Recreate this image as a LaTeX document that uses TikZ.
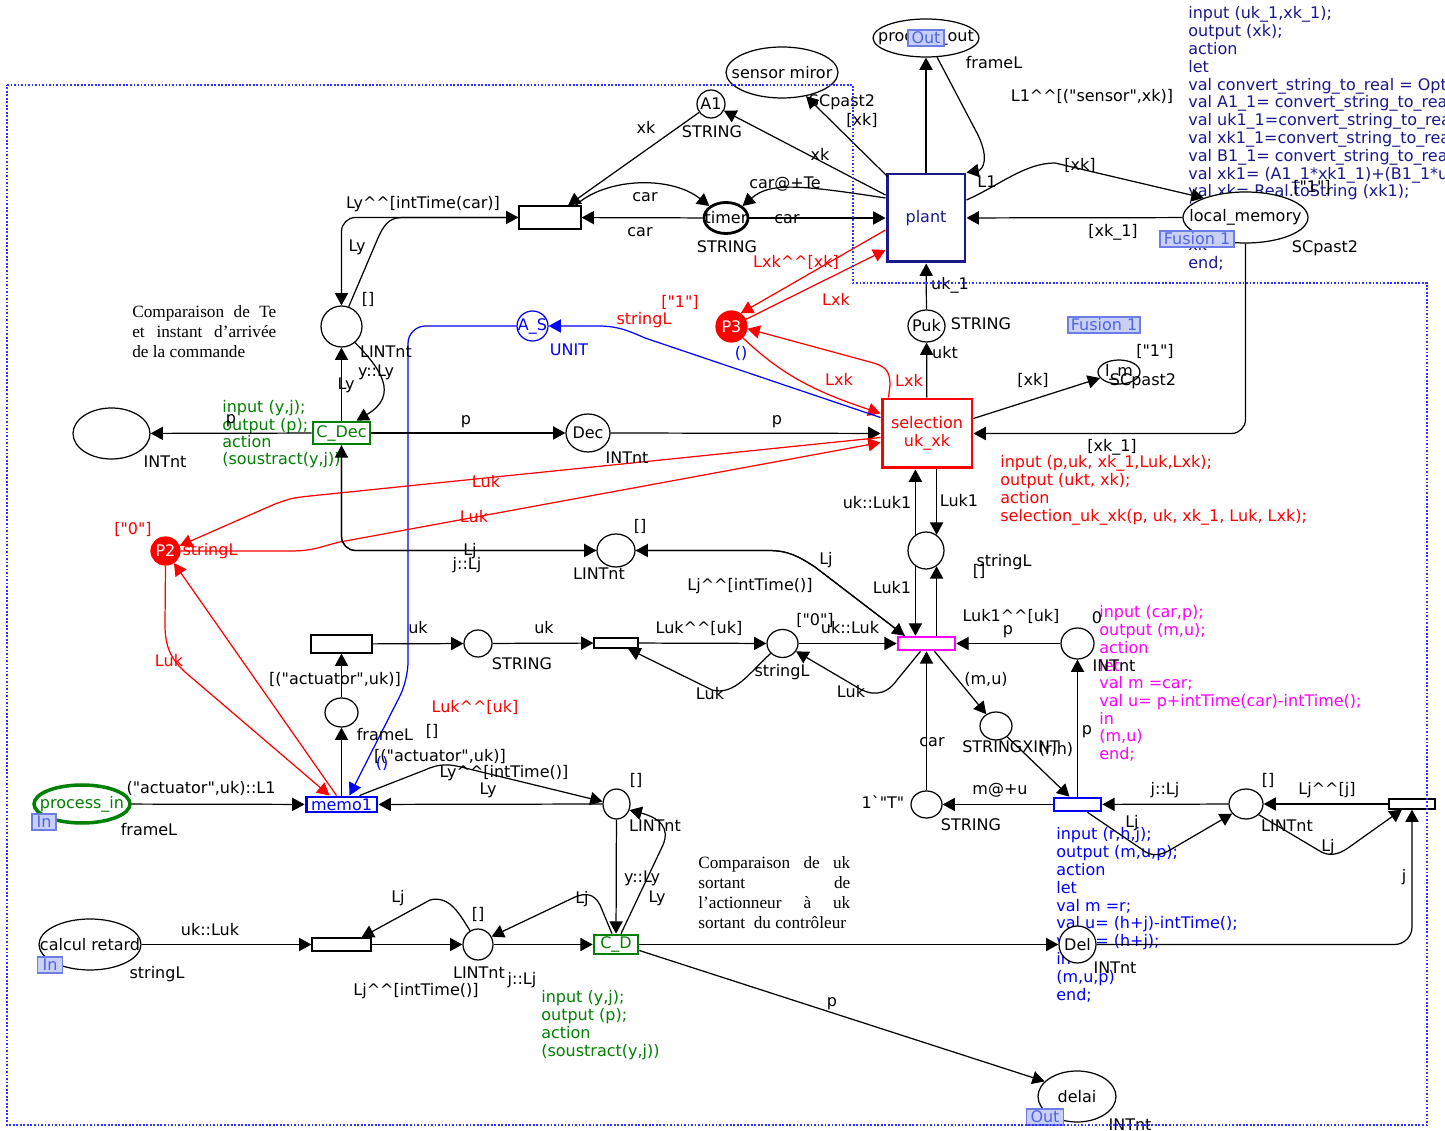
\documentclass[tikz,border=0pt]{standalone}
\usepackage{fontspec}
\setmainfont{Liberation Serif}
\newfontfamily\cpnfont{DejaVu Sans}
\usetikzlibrary{arrows.meta,shapes.geometric,calc}

\definecolor{cpnnavy}{RGB}{25,25,140}
\definecolor{cpnblue}{RGB}{0,0,255}
\definecolor{cpngreen}{RGB}{0,128,0}
\definecolor{cpnmag}{RGB}{255,0,255}
\definecolor{cpnred}{RGB}{255,0,0}
\definecolor{tagfill}{RGB}{200,208,245}
\definecolor{tagline}{RGB}{110,125,230}
\definecolor{tagtext}{RGB}{80,100,230}
\definecolor{fence}{RGB}{50,50,255}

\newcommand{\dcirc}{\textasciicircum\textasciicircum}

\begin{document}
\begin{tikzpicture}[x=0.02cm,y=-0.02cm,>={Triangle[length=7pt,width=7.5pt]},
    every node/.style={font=\cpnfont\fontsize{9.1}{10.1}\selectfont},
    place/.style={draw,ellipse,fill=white,inner sep=0pt,line width=0.7pt},
    trans/.style={draw,rectangle,fill=white,inner sep=0pt,line width=0.7pt},
    arc/.style={->,line width=0.7pt},
    lbl/.style={inner sep=0pt,anchor=base,yshift=-2.8pt},
    codeline/.style={inner sep=0pt,anchor=base west,yshift=-2.8pt},
    tag/.style={draw=tagline,fill=tagfill,text=tagtext,inner sep=0pt,
      line width=0.6pt,minimum height=0.32cm},
    note/.style={font=\rmfamily\fontsize{9.8}{11.4}\selectfont,inner sep=0pt,
      anchor=base west,yshift=-3pt}]
\useasboundingbox (0,0) rectangle (1445,1131);

% code of the transitions
\foreach \i/\t in {0/{input (uk\_1,xk\_1);},1/{output (xk);},2/action,3/let,
    4/{val convert\_string\_to\_real = Option.valOf o Real.fromString;},
    5/{val A1\_1= convert\_string\_to\_real A1;},
    6/{val uk1\_1=convert\_string\_to\_real uk\_1;},
    7/{val xk1\_1=convert\_string\_to\_real xk\_1;},
    8/{val B1\_1= convert\_string\_to\_real B1;},
    9/{val xk1= (A1\_1*xk1\_1)+(B1\_1*uk1\_1);},
    10/{val xk= Real.toString (xk1);},11/in,13/xk,14/end;}
  \node[codeline,text=cpnnavy] (plcode\i) at (1188,14+17.8*\i) {\t};
\foreach \i/\t in {0/{input (p,uk, xk\_1,Luk,Lxk);},1/{output (ukt, xk);},2/action,
    3/{selection\_uk\_xk(p, uk, xk\_1, Luk, Lxk);}}
  \node[codeline,text=cpnred] (selcode\i) at (1000,463+17.8*\i) {\t};
\foreach \i/\t in {0/{input (car,p);},1/{output (m,u);},2/action,3/let,4/{val m =car;},
    5/{val u= p+intTime(car)-intTime();},6/in,7/{(m,u)},8/end;}
  \node[codeline,text=cpnmag] (magcode\i) at (1099,613+17.7*\i) {\t};
\foreach \i/\t in {0/{input (r,h,j);},1/{output (m,u,p);},2/action,3/let,4/{val m =r;},
    5/{val u= (h+j)-intTime();},6/{val p= (h+j);},7/in,8/{(m,u,p)},9/end;}
  \node[codeline,text=cpnblue] (btcode\i) at (1056,835+17.8*\i) {\t};
\foreach \i/\t in {0/{input (y,j);},1/{output (p);},2/action,3/{(soustract(y,j))}}
  \node[codeline,text=cpngreen] (cdeccode\i) at (222,408+17.2*\i) {\t};
\foreach \i/\t in {0/{input (y,j);},1/{output (p);},2/action,3/{(soustract(y,j))}}
  \node[codeline,text=cpngreen] (cdcode\i) at (541,998+17.8*\i) {\t};

% comments
\node[note] (notete) at (132,312) {\parbox[t]{2.88cm}{\tolerance=10000\hyphenpenalty=10000
  Comparaison de Te et instant d’arrivée de la commande}};
\node[note] (noteuk) at (698,863) {\parbox[t]{3.04cm}{\tolerance=10000\hyphenpenalty=10000
  Comparaison de uk sortant de\linebreak l’actionneur à uk sortant~~du contrôleur}};

% places
\node[place,minimum width=2.24cm,minimum height=1.02cm,label=center:sensor miror] (sensor) at (782,72.5) {};
\node[place,minimum width=2.12cm,minimum height=0.76cm,label=center:process\_out] (pout) at (926,38) {};
\node[place,minimum size=0.56cm,label=center:A1] (aone) at (711,104) {};
\node[place,line width=1.6pt,minimum width=0.88cm,minimum height=0.62cm,label=center:timer] (timer) at (726,218) {};
\node[place,minimum width=2.5cm,minimum height=1.02cm,label=center:local\_memory] (lmem) at (1245.5,217.5) {};
\node[place,minimum width=0.74cm,minimum height=0.64cm,label=center:Puk] (puk) at (926.5,326) {};
\node[place,draw=cpnred,fill=cpnred,minimum size=0.62cm,label={[text=white]center:P3}] (pthree) at (731.5,326.5) {};
\node[place,draw=cpnblue,minimum width=0.62cm,minimum height=0.6cm,label={[text=cpnblue]center:A\_S}] (as) at (532.5,326) {};
\node[place,minimum size=0.82cm] (ly) at (341.5,326.5) {};
\node[place,minimum width=1.54cm,minimum height=1.02cm] (outp) at (111.5,433.5) {};
\node[place,minimum width=0.88cm,minimum height=0.76cm,label=center:Dec] (dec) at (588,433) {};
\node[place,minimum width=0.84cm,minimum height=0.48cm,label=center:l\_m] (lm) at (1119,372) {};
\node[place,draw=cpnred,fill=cpnred,minimum width=0.58cm,minimum height=0.56cm,label={[text=white]center:P2}] (ptwo) at (165.5,551) {};
\node[place,minimum width=0.76cm,minimum height=0.66cm] (ljtop) at (616,550.5) {};
\node[place,minimum width=0.72cm,minimum height=0.74cm] (lukone) at (926,550.5) {};
\node[place,minimum width=0.62cm,minimum height=0.56cm] (luk) at (782.5,643.5) {};
\node[place,minimum width=0.56cm,minimum height=0.54cm] (ukp) at (478,643.5) {};
\node[place,minimum width=0.66cm,minimum height=0.58cm] (frame) at (341.5,712.5) {};
\node[place,draw=cpngreen,line width=2pt,minimum width=1.92cm,minimum height=0.76cm,label={[text=cpngreen]center:process\_in}] (pin) at (82,804) {};
\node[place,minimum width=0.54cm,minimum height=0.6cm] (lyb) at (616.5,804) {};
\node[place,minimum width=0.6cm,minimum height=0.62cm] (ljb) at (478,944.5) {};
\node[place,minimum width=2.04cm,minimum height=1.02cm,label=center:calcul retard] (retard) at (90,944.5) {};
\node[place,minimum width=1.56cm,minimum height=1.02cm,label=center:delai] (delai) at (1077,1096.5) {};
\node[place,minimum size=0.74cm,label=center:Del] (del) at (1077.5,944.5) {};
\node[place,minimum width=0.68cm,minimum height=0.6cm] (ljr) at (1246,804) {};
\node[place,minimum width=0.62cm,minimum height=0.54cm] (tp) at (926.5,804.5) {};
\node[place,minimum width=0.64cm,minimum height=0.56cm] (mu) at (996,726) {};
\node[place,minimum width=0.66cm,minimum height=0.62cm] (zero) at (1077.5,643.5) {};

% transitions
\node[trans,minimum width=1.24cm,minimum height=0.46cm] (rtop) at (550,217.5) {};
\node[trans,draw=cpnnavy,text=cpnnavy,line width=1.7pt,minimum width=1.56cm,minimum height=1.76cm] (plant) at (926,218) {plant};
\node[trans,draw=cpnred,text=cpnred,line width=1.7pt,align=center,minimum width=1.8cm,minimum height=1.38cm] (sel) at (927,433.5) {selection\\uk\_xk};
\node[trans,draw=cpngreen,text=cpngreen,line width=1.5pt,minimum width=1.14cm,minimum height=0.44cm] (cdec) at (341.5,433) {C\_Dec};
\node[trans,draw=cpnmag,line width=1.5pt,minimum width=1.14cm,minimum height=0.26cm] (mag) at (926.5,643.5) {};
\node[trans,minimum width=0.88cm,minimum height=0.2cm] (srect) at (616,643) {};
\node[trans,minimum width=1.22cm,minimum height=0.36cm] (act) at (341.5,644) {};
\node[trans,draw=cpnblue,text=cpnblue,line width=1.7pt,minimum width=1.42cm,minimum height=0.3cm] (memo) at (341.5,804.5) {memo1};
\node[trans,minimum width=1.18cm,minimum height=0.26cm] (btr) at (341.5,944.5) {};
\node[trans,draw=cpngreen,text=cpngreen,line width=1.5pt,minimum width=0.88cm,minimum height=0.38cm] (cd) at (616,944.5) {C\_D};
\node[trans,draw=cpnblue,line width=1.5pt,minimum width=0.94cm,minimum height=0.26cm] (bt) at (1077.5,804.5) {};
\node[trans,minimum width=0.92cm,minimum height=0.2cm] (rtr) at (1412,804) {};

% arcs around plant
\draw[arc] (aone) -- ($(rtop.north)+(18,0)$);
\draw[arc] ($(plant.west)+(0,-23)$) -- (aone);
\draw[arc] ($(plant.north west)+(2,4)$) -- (sensor);
\draw[arc] ($(rtop.north east)+(-6,0)$) .. controls (605,178) and (670,175) .. (timer.north west);
\draw[arc] (timer) -- (rtop);
\draw[arc] (timer) -- (plant);
\draw[arc] ($(plant.west)+(0,-20)$) .. controls (800,185) and (770,182) .. (timer.north east);
\draw[arc] (plant) -- (pout);
\draw[arc] (pout.300) -- (978,135) .. controls (990,160) and (982,170) .. (plant.north east);
\draw[arc] ($(plant.east)+(0,-18)$) .. controls (1000,185) and (1025,163) .. (1055,163) -- (lmem.155);
\draw[arc] (lmem) -- (plant);
\draw[arc,rounded corners=8pt] (lmem.south) |- (sel.east);
\draw[arc] ($(sel.east)+(0,-15)$) -- (lm);
\draw[arc] (puk) -- (plant);
\draw[arc] (sel) -- (puk);
\draw[arc,cpnred] ($(plant.west)+(0,12)$) -- (pthree.55);
\draw[arc,cpnred] (pthree) -- ($(plant.west)+(0,32)$);
\draw[arc,cpnred] (pthree.-45) .. controls (785,378) and (820,393) .. ($(sel.west)+(0,-20)$);
\draw[arc,cpnred] ($(sel.north west)+(8,0)$) -- (890,385) .. controls (890,370) and (885,366) .. (870,362) -- (pthree.-8);
\draw[arc,cpnblue] ($(sel.west)+(0,-16)$) -- (645,338) .. controls (625,329) and (615,326) .. (598,326) -- (as.east);
\draw[arc,cpnblue,rounded corners=10pt] (as.west) -| (408,680) -- ($(memo.north)+(8,0)$);

% arcs around C_Dec
\draw[arc] (cdec) -- (outp);
\draw[arc] (cdec) -- (ly);
\draw[arc] (ly.-50) .. controls (380,368) and (400,395) .. ($(cdec.north)+(15,0)$);
\draw[arc,rounded corners=8pt] (rtop.west) -| (ly.north);
\draw[arc] (ly.70) -- (378,238) .. controls (386,220) and (392,217.5) .. (405,217.5) -- (rtop.west);
\draw[arc] (cdec) -- (dec);
\draw[arc] (dec) -- (sel);
\draw[arc,cpnred] ($(sel.west)+(0,4)$) -- (310,496) .. controls (292,498) .. (275,504) -- (ptwo.20);
\draw[arc,cpnred] (ptwo.east) -- (290,551) .. controls (315,551) and (322,546) .. (340,542) -- ($(sel.west)+(0,9)$);
\draw[arc,cpnred] (ptwo.south) -- (165,625) .. controls (165,648) and (172,660) .. (185,672) -- ($(memo.north)+(-12,0)$);
\draw[arc,cpnred] ($(memo.north)+(-5,0)$) -- (ptwo);
\draw[arc,rounded corners=8pt] (ljtop.west) -| (cdec.south);
\draw[arc,rounded corners=8pt] (cdec.south) |- (ljtop.west);
\draw[arc] ($(mag.north west)+(8,0)$) -- (815,567) .. controls (798,556) and (788,550.5) .. (768,550.5) -- (ljtop.east);
\draw[arc] (ljtop.east) -- (768,550.5) .. controls (788,550.5) and (798,556) .. (815,567) -- ($(mag.north west)+(8,0)$);

% arcs around the magenta transition
\draw[arc] (lukone.56 |- sel.south) -- (lukone.56);
\draw[arc] (lukone.124) -- (lukone.124 |- sel.south);
\draw[arc] (lukone.236) -- (lukone.236 |- mag.north);
\draw[arc] (lukone.304 |- mag.north) -- (lukone.304);
\draw[arc] (luk) -- (mag);
\draw[arc] ($(mag.south)+(-6,0)$) -- (897,680) .. controls (885,697) and (870,696) .. (855,686) -- (luk.-30);
\draw[arc] (srect) -- (luk);
\draw[arc] (luk.-140) .. controls (750,672) and (735,696) .. (712,690) -- ($(srect.south)+(12,0)$);
\draw[arc] (ukp) -- (srect);
\draw[arc] (act) -- (ukp);
\draw[arc] (frame) -- (act);
\draw[arc] (memo) -- (frame);
\draw[arc] (pin) -- (memo);
\draw[arc] (lyb) -- (memo);
\draw[arc] ($(memo.north)+(18,0)$) -- (425,770) .. controls (440,763) and (450,764) .. (465,768) -- (lyb.170);
\draw[arc] (lyb) -- (cd);
\draw[arc] ($(cd.north)+(5,0)$) -- (663,845) .. controls (670,828) and (660,818) .. (lyb.-25);
\draw[arc] (ljb) -- (cd);
\draw[arc] ($(cd.north)+(-4,0)$) -- (600,905) .. controls (594,893) and (585,893) .. (575,897) -- (ljb.30);
\draw[arc] (btr) -- (ljb);
\draw[arc] (ljb.120) .. controls (460,915) and (450,895) .. (430,900) -- ($(btr.north)+(20,0)$);
\draw[arc] (retard) -- (btr);
\draw[arc] (cd) -- (del);
\draw[arc] ($(cd.east)+(0,6)$) -- (delai.155);
\draw[arc,rounded corners=10pt] (del.east) -| (rtr.south);
\draw[arc] (rtr) -- (ljr);
\draw[arc] (ljr.-40) -- (1318,850) .. controls (1328,857) and (1338,855) .. (1348,848) -- ($(rtr.south)+(-10,0)$);
\draw[arc] (ljr) -- (bt);
\draw[arc] ($(bt.south)+(10,0)$) -- (1140,848) .. controls (1150,857) and (1160,856) .. (1170,850) -- (ljr.-145);
\draw[arc] (bt) -- (tp);
\draw[arc] (tp) -- (mag);
\draw[arc] ($(mag.south)+(8,0)$) -- (mu);
\draw[arc] (mu) -- ($(bt.north)+(-8,0)$);
\draw[arc] (bt) -- (zero);
\draw[arc] (zero) -- (mag);

% inscriptions
\foreach \x/\y/\t [count=\n] in {423/204/Ly\dcirc[intTime(car)],357/247/Ly,368/300/[],
    386/353/LINTnt,376/372/y::Ly,346/385/Ly,231/419/p,165/463/INTnt,466/420/p,
    627/459/INTnt,777/420/p,646/129/xk,712/133/STRING,820/156/xk,842/102/SCpast2,
    862/121/[xk],645/197/car,640/232/car,727/248/STRING,785/184/car@+Te,787/219/car,
    994/64/frameL,1092/97/{L1\dcirc[("sensor",xk)]},987/183/L1,1080/166/[xk],
    1113/232/[xk\_1],1325/248/SCpast2,1312/188/["1"],950/285/uk\_1,981/325/STRING,
    945/354/ukt,1033/381/[xk],1155/352/["1"],1143/381/SCpast2,1112/447/[xk\_1],
    877/504/uk::Luk1,959/502/Luk1,640/527/[],599/575/LINTnt,826/560/Lj,
    750/586/Lj\dcirc[intTime()],892/589/Luk1,1004/562/stringL,979/572/[],
    470/551/Lj,467/565/j::Lj,418/629/uk,544/629/uk,522/665/STRING,699/629/Luk\dcirc[uk],
    815/621/["0"],850/629/uk::Luk,782/672/stringL,710/695/Luk,851/693/Luk,
    1011/617/Luk1\dcirc[uk],1008/630/p,1097/619/0,1114/667/INTnt,986/680/{(m,u)},
    932/742/car,1011/748/STRINGXINT,1056/750/{(r,h)},1087/730/p,1000/790/m@+u,
    883/804/1\textasciigrave"T",971/826/STRING,1165/790/j::Lj,1268/781/[],
    1327/790/Lj\dcirc[j],1287/827/LINTnt,1328/847/Lj,1132/823/Lj,1404/877/j,
    1115/969/INTnt,1130/1126/INTnt,832/1002/p,636/781/[],655/827/LINTnt,642/878/y::Ly,
    657/898/Ly,582/899/Lj,522/980/j::Lj,479/974/LINTnt,478/915/[],398/898/Lj,
    416/991/Lj\dcirc[intTime()],210/931/uk::Luk,157/974/stringL,
    201/789/{("actuator",uk)::L1},149/831/frameL,488/790/Ly,504/773/Ly\dcirc[intTime()],
    335/680/{[("actuator",uk)]},440/757/{[("actuator",uk)]},385/736/frameL,432/732/[]}
  \node[lbl] (lb\n) at (\x,\y) {\t};
\foreach \x/\y/\t [count=\n] in {796/263/Lxk\dcirc[xk],836/301/Lxk,680/303/["1"],
    644/320/stringL,839/381/Lxk,909/382/Lxk,486/483/Luk,474/518/Luk,133/530/["0"],
    210/551/stringL,169/662/Luk,475/708/Luk\dcirc[uk]}
  \node[lbl,text=cpnred] (lr\n) at (\x,\y) {\t};
\foreach \x/\y/\t [count=\n] in {569/351/UNIT,741/354/(),382/764/()}
  \node[lbl,text=cpnblue] (lu\n) at (\x,\y) {\t};

% port and fusion tags
\node[tag,minimum width=1.48cm] (tgfus) at (1197,239) {Fusion 1};
\node[tag,minimum width=1.44cm] (tgfusb) at (1104,325) {Fusion 1};
\node[tag,minimum width=0.48cm] (tgin) at (44,822) {In};
\node[tag,minimum width=0.5cm] (tginb) at (50,965) {In};
\node[tag,minimum width=0.72cm] (tgout) at (926,38) {Out};
\node[tag,minimum width=0.74cm] (tgoutb) at (1045,1117) {Out};

% page border
\draw[fence,densely dotted,line width=1pt] (7,85) -- (853,85) -- (853,283) -- (1427,283)
  -- (1427,1125) -- (7,1125) -- cycle;
\end{tikzpicture}
\end{document}
